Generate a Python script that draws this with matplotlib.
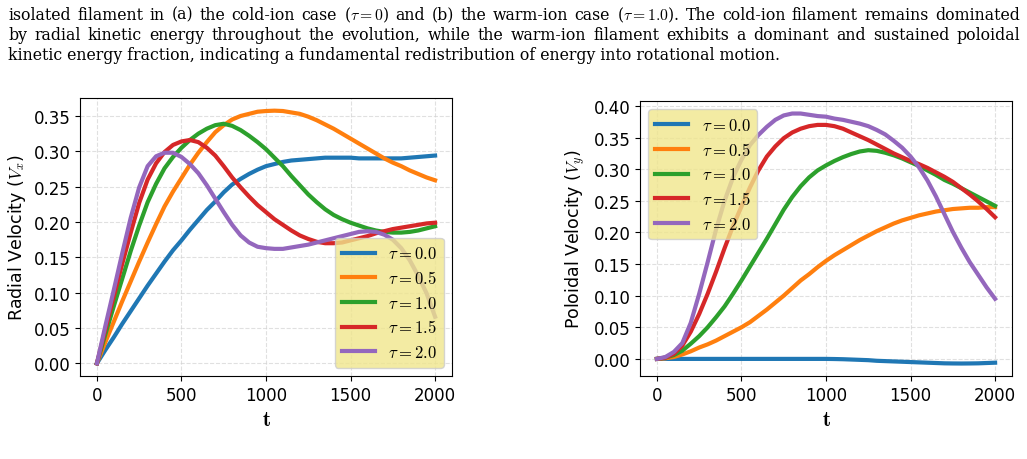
import matplotlib
matplotlib.use("Agg")
import matplotlib.pyplot as plt

plt.rcParams['mathtext.fontset'] = 'cm'

# time axis (shared), step 50
t = [0, 50, 100, 150, 200, 250, 300, 350, 400, 450, 500,
     550, 600, 650, 700, 750, 800, 850, 900, 950, 1000,
     1050, 1100, 1150, 1200, 1250, 1300, 1350, 1400, 1450, 1500,
     1550, 1600, 1650, 1700, 1750, 1800, 1850, 1900, 1950, 2000]

taus = ['0.0', '0.5', '1.0', '1.5', '2.0']
colors = ['#1f77b4', '#ff7f0e', '#2ca02c', '#d62728', '#9467bd']

# (a) radial velocity V_x
vx_00 = [0, 0.019, 0.037, 0.056, 0.074, 0.092, 0.110, 0.127, 0.144, 0.160, 0.174,
         0.189, 0.203, 0.217, 0.229, 0.242, 0.253, 0.261, 0.268, 0.274, 0.279,
         0.282, 0.285, 0.287, 0.288, 0.289, 0.290, 0.291, 0.291, 0.291, 0.291,
         0.290, 0.290, 0.290, 0.290, 0.290, 0.290, 0.291, 0.292, 0.293, 0.294]
vx_05 = [0, 0.030, 0.059, 0.088, 0.116, 0.144, 0.171, 0.197, 0.222, 0.243, 0.262,
         0.281, 0.298, 0.313, 0.327, 0.337, 0.345, 0.350, 0.353, 0.356, 0.357,
         0.3575, 0.357, 0.355, 0.353, 0.349, 0.344, 0.338, 0.332, 0.325, 0.318,
         0.311, 0.304, 0.297, 0.290, 0.284, 0.279, 0.273, 0.268, 0.263, 0.259]
vx_10 = [0, 0.041, 0.081, 0.120, 0.159, 0.195, 0.228, 0.254, 0.276, 0.292, 0.305,
         0.316, 0.325, 0.332, 0.337, 0.339, 0.336, 0.330, 0.322, 0.313, 0.303,
         0.291, 0.279, 0.265, 0.252, 0.239, 0.228, 0.218, 0.210, 0.204, 0.199,
         0.195, 0.191, 0.188, 0.186, 0.185, 0.185, 0.186, 0.188, 0.191, 0.194]
vx_15 = [0, 0.048, 0.095, 0.141, 0.185, 0.227, 0.260, 0.283, 0.299, 0.309, 0.314,
         0.316, 0.313, 0.305, 0.294, 0.279, 0.263, 0.249, 0.236, 0.224, 0.214,
         0.204, 0.196, 0.188, 0.181, 0.176, 0.172, 0.170, 0.170, 0.171, 0.174,
         0.177, 0.180, 0.184, 0.187, 0.190, 0.192, 0.194, 0.196, 0.198, 0.199]
vx_20 = [0, 0.053, 0.104, 0.156, 0.206, 0.249, 0.279, 0.293, 0.298, 0.298, 0.292,
         0.282, 0.269, 0.252, 0.233, 0.214, 0.196, 0.181, 0.171, 0.165, 0.163,
         0.162, 0.162, 0.164, 0.166, 0.168, 0.171, 0.174, 0.177, 0.180, 0.183,
         0.186, 0.187, 0.186, 0.182, 0.175, 0.163, 0.146, 0.124, 0.099, 0.066]

# (b) poloidal velocity V_y
vy_00 = [0, 0, 0, 0, 0, 0, 0, 0, 0, 0, 0,
         0, 0, 0, 0, 0, 0, 0, 0, 0, 0,
         -0.0002, -0.0005, -0.001, -0.0015, -0.002, -0.003, -0.0035, -0.004, -0.0045, -0.005,
         -0.0055, -0.006, -0.0065, -0.007, -0.0072, -0.0073, -0.0072, -0.007, -0.0065, -0.006]
vy_05 = [0, 0.001, 0.003, 0.007, 0.012, 0.018, 0.023, 0.029, 0.036, 0.043, 0.050,
         0.058, 0.068, 0.078, 0.089, 0.100, 0.112, 0.124, 0.134, 0.145, 0.155,
         0.164, 0.172, 0.180, 0.188, 0.195, 0.202, 0.208, 0.214, 0.219, 0.223,
         0.227, 0.230, 0.233, 0.235, 0.237, 0.238, 0.239, 0.239, 0.240, 0.240]
vy_10 = [0, 0.002, 0.006, 0.013, 0.024, 0.036, 0.050, 0.066, 0.083, 0.103, 0.124,
         0.146, 0.168, 0.190, 0.213, 0.236, 0.256, 0.273, 0.287, 0.298, 0.306,
         0.313, 0.319, 0.324, 0.328, 0.330, 0.329, 0.326, 0.322, 0.317, 0.311,
         0.305, 0.298, 0.291, 0.283, 0.277, 0.270, 0.263, 0.256, 0.249, 0.242]
vy_15 = [0, 0.002, 0.008, 0.021, 0.043, 0.071, 0.103, 0.138, 0.175, 0.210, 0.241,
         0.271, 0.298, 0.320, 0.336, 0.349, 0.358, 0.364, 0.368, 0.370, 0.370,
         0.368, 0.364, 0.358, 0.352, 0.346, 0.339, 0.332, 0.325, 0.319, 0.313,
         0.308, 0.302, 0.295, 0.288, 0.280, 0.270, 0.260, 0.249, 0.237, 0.224]
vy_20 = [0, 0.003, 0.011, 0.025, 0.057, 0.103, 0.153, 0.205, 0.250, 0.287, 0.315,
         0.338, 0.354, 0.367, 0.378, 0.385, 0.388, 0.388, 0.386, 0.384, 0.383,
         0.380, 0.378, 0.375, 0.372, 0.368, 0.362, 0.355, 0.345, 0.334, 0.320,
         0.303, 0.282, 0.257, 0.229, 0.201, 0.176, 0.153, 0.133, 0.113, 0.095]

vx = [vx_00, vx_05, vx_10, vx_15, vx_20]
vy = [vy_00, vy_05, vy_10, vy_15, vy_20]

W, H = 1027, 460
fig = plt.figure(figsize=(W / 100, H / 100), dpi=100)

# caption fragment above the panels (first two lines justified)
cap = [
    r"isolated filament in (a) the cold-ion case ($\tau=0$) and (b) the warm-ion case ($\tau=1.0$). The cold-ion filament remains dominated",
    "by radial kinetic energy throughout the evolution, while the warm-ion filament exhibits a dominant and sustained poloidal",
    "kinetic energy fraction, indicating a fundamental redistribution of energy into rotational motion.",
]
cap_font = dict(family='DejaVu Serif', fontsize=11.3, va='center', ha='left')
renderer = fig.canvas.get_renderer()
for i, line in enumerate(cap):
    y = 1 - (15 + 20 * i) / H
    if i == len(cap) - 1:
        fig.text(8 / W, y, line, **cap_font)
        continue
    words = line.split(' ')
    txts = [fig.text(0, y, w, **cap_font) for w in words]
    widths = [tx.get_window_extent(renderer).width for tx in txts]
    gap = (1020 - 8 - sum(widths)) / (len(words) - 1)
    x = 8
    for tx, w in zip(txts, widths):
        tx.set_x(x / W)
        x += w + gap

ax1 = fig.add_axes([0.0779, 0.1804, 0.3622, 0.6043])
ax2 = fig.add_axes([0.6232, 0.1804, 0.3622, 0.5978])

for ax, data, ylab, loc in [(ax1, vx, r'Radial Velocity ($V_x$)', 'lower right'),
                            (ax2, vy, r'Poloidal Velocity ($V_y$)', 'upper left')]:
    for tau, c, v in zip(taus, colors, data):
        ax.plot(t, v, color=c, lw=3, label=r'$\tau = %s$' % tau)
    ax.set_xlabel(r'$\mathbf{t}$', fontsize=15)
    ax.set_ylabel(ylab, fontsize=12.5)
    ax.tick_params(labelsize=12)
    ax.set_xticks([0, 500, 1000, 1500, 2000])
    ax.grid(True, linestyle='--', color='lightgray', alpha=0.7)
    ax.legend(loc=loc, fontsize=12, facecolor='khaki', framealpha=0.8,
              labelspacing=0.4)

ax2.set_yticks([0, 0.05, 0.10, 0.15, 0.20, 0.25, 0.30, 0.35, 0.40])

plt.savefig('out.png', dpi=100)
